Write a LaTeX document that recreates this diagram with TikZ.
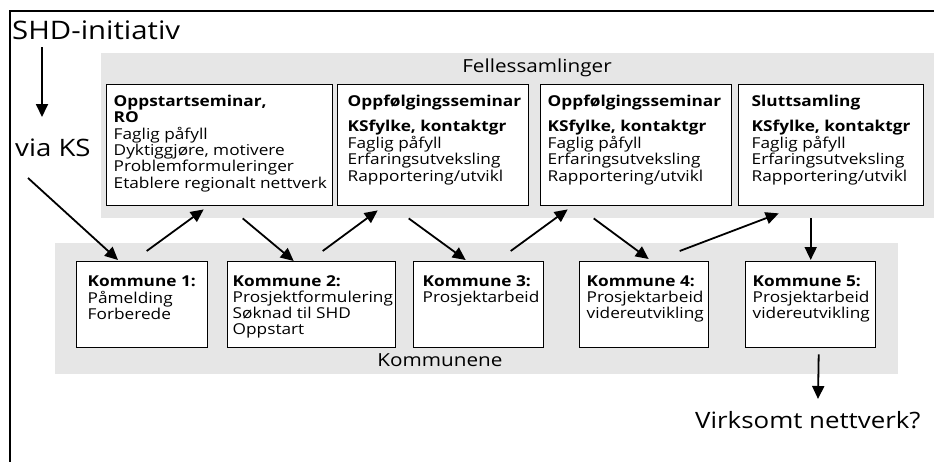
\documentclass[tikz,border=0pt]{standalone}
\usepackage{fontspec}
\setmainfont{Open Sans}[FakeStretch=1.15]
\usetikzlibrary{arrows.meta,calc}
\definecolor{bandgray}{RGB}{230,230,230}
\newcommand{\cell}[3]{\parbox[c][#2][t]{#1}{\begin{tabular}[t]{@{}l@{}}#3\end{tabular}}}
\tikzset{
  seminar/.style={draw, line width=1.4pt, fill=white, anchor=north west, inner sep=0pt,
    minimum height=121pt, font=\fontsize{15pt}{16.2pt}\selectfont},
  kommune/.style={seminar, minimum height=86pt},
  title/.style={font=\fontsize{18pt}{20pt}\selectfont, inner sep=0pt, anchor=base},
  big/.style={font=\fontsize{24pt}{28pt}\selectfont, inner sep=0pt, anchor=base west},
  arr/.style={line width=1.8pt, -{Triangle[length=13pt,width=12pt]}}
}

\begin{document}
\begin{tikzpicture}[x=1pt,y=-1pt]
\useasboundingbox (0,0) rectangle (934,461);

\fill[bandgray] (101,53) rectangle (940,218);
\fill[bandgray] (55,243) rectangle (898,374);
\draw[line width=2.4pt] (10,470) -- (10,11) -- (940,11);

\node[big, font=\fontsize{25.5pt}{28pt}\selectfont] (shd) at (12,39.5) {SHD-initiativ};
\node[big] (via) at (15,156) {via KS};
\node[big, font=\fontsize{22.5pt}{26pt}\selectfont] (virk) at (695,428) {Virksomt nettverk?};

\node[title] (felles) at (537,72) {Fellessamlinger};
\node[title] (kommunene) at (440,366) {Kommunene};

\node[seminar, minimum width=226pt] (sem1) at (106,84) {\cell{212pt}{101pt}{\textbf{Oppstartseminar,}\\
  \textbf{RO}\\ Faglig påfyll\\ Dyktiggjøre, motivere\\ Problemformuleringer\\ Etablere regionalt nettverk}};
\node[seminar, minimum width=191pt] (sem2) at (337,84) {\cell{171pt}{101pt}{\textbf{Oppfølgingsseminar}\\[9pt]
  \textbf{KSfylke, kontaktgr}\\ Faglig påfyll\\ Erfaringsutveksling\\ Rapportering/utvikl}};
\node[seminar, minimum width=191pt] (sem3) at (540,84) {\cell{177pt}{101pt}{\textbf{Oppfølgingsseminar}\\[9pt]
  \textbf{KSfylke, kontaktgr}\\ Faglig påfyll\\ Erfaringsutveksling\\ Rapportering/utvikl}};
\node[seminar, minimum width=185pt] (sem4) at (738,84) {\cell{159pt}{101pt}{\textbf{Sluttsamling}\\[9pt]
  \textbf{KSfylke, kontaktgr}\\ Faglig påfyll\\ Erfaringsutveksling\\ Rapportering/utvikl}};

\node[kommune, minimum width=131pt] (kom1) at (76,261) {\cell{109pt}{60pt}{\textbf{Kommune 1:}\\ Påmelding\\ Forberede}};
\node[kommune, minimum width=168pt] (kom2) at (227,261) {\cell{158pt}{60pt}{\textbf{Kommune 2:}\\ Prosjektformulering\\ Søknad til SHD\\ Oppstart}};
\node[kommune, minimum width=130pt] (kom3) at (413,261) {\cell{112pt}{60pt}{\textbf{Kommune 3:}\\ Prosjektarbeid}};
\node[kommune, minimum width=129pt] (kom4) at (579,261) {\cell{115pt}{60pt}{\textbf{Kommune 4:}\\ Prosjektarbeid\\ videreutvikling}};
\node[kommune, minimum width=130pt] (kom5) at (745,261) {\cell{116pt}{60pt}{\textbf{Kommune 5:}\\ Prosjektarbeid\\ videreutvikling}};

\draw[arr] ($(shd.base west)+(30,7.5)$) -- ($(via.base west)+(27,-39)$);
\draw[arr] ($(via.base west)+(13,22)$) -- ($(kom1.north west)+(42,-1)$);
\draw[arr] ($(kom1.north)+(4.5,-10)$) -- ($(sem1.south)+(-16,3)$);
\draw[arr] ($(sem1.south)+(23,12)$) -- ($(kom2.north)+(-18,0)$);
\draw[arr] ($(kom2.north)+(11,-10)$) -- ($(sem2.south)+(-55.5,4)$);
\draw[arr] ($(sem2.south)+(-24.5,12)$) -- ($(kom3.north)+(-13,-1)$);
\draw[arr] ($(kom3.north)+(32,-10)$) -- ($(sem3.south)+(-68.5,3)$);
\draw[arr] ($(sem3.south)+(-42.5,12)$) -- ($(kom4.north)+(4.5,-2)$);
\draw[arr] ($(kom4.north)+(35.5,-10)$) -- ($(sem4.south)+(-52.5,7)$);
\draw[arr] ($(sem4.south)+(-20.5,12)$) -- ($(kom5.north)+(0,-1)$);
\draw[arr] ($(kom5.south)+(8,6)$) -- ($(virk.base west)+(123,-29)$);

\end{tikzpicture}
\end{document}
